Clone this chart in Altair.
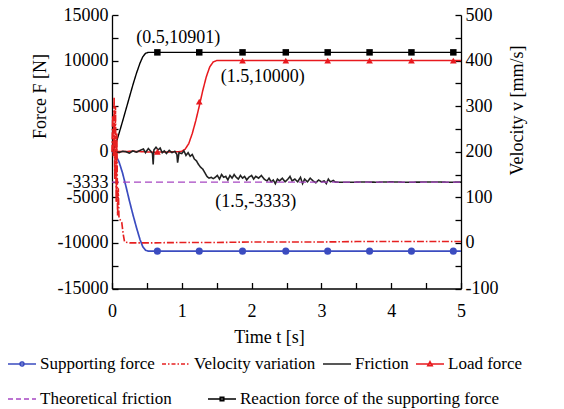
import altair as alt
import pandas as pd

# ---------------- data ----------------
row1_names = ["Supporting force", "Velocity variation", "Friction", "Load force"]
row1_colors = ["#3b4cc0", "#e62020", "#222222", "#e8191e"]
row2_names = ["Theoretical friction", "Reaction force of the supporting force"]
row2_colors = ["#a747c2", "#000000"]
series_names = row1_names + row2_names
series_dashes = [[1, 0], [7, 2, 1.5, 2], [1, 0], [1, 0], [7, 4], [1, 0]]
series_widths = [1.7, 1.4, 1.1, 1.6, 1.8, 1.6]

# Reaction force of the supporting force (N)
t_react = [0, 0.03, 0.06, 0.1, 0.15, 0.2, 0.25, 0.3, 0.35, 0.4, 0.44, 0.48, 0.52, 5.0]
f_react = [0, 300, 1000, 2000, 3300, 4650, 6000, 7350, 8600, 9700, 10400, 10800, 10901, 10901]

# Supporting force (N)
t_support = [0, 0.03, 0.06, 0.1, 0.15, 0.2, 0.25, 0.3, 0.35, 0.4, 0.44, 0.48, 0.52, 5.0]
f_support = [0, -150, -500, -1100, -2300, -3800, -5400, -6900, -8300, -9600, -10400, -10800, -10901, -10901]

# Load force (N)
t_load = [0, 0.3, 0.6, 0.95, 1.0, 1.05, 1.1, 1.15, 1.2, 1.25, 1.3, 1.35, 1.4, 1.45, 1.5, 5.0]
f_load = [0, 50, -50, 0, 50, 300, 900, 2000, 3400, 5000, 6700, 8200, 9300, 9850, 10000, 10000]

# Friction (N)
t_fric = [0.00, 0.05, 0.10, 0.15, 0.20, 0.25, 0.30, 0.35, 0.40, 0.45, 0.48, 0.52, 0.55, 0.58,
          0.59, 0.60, 0.63, 0.66, 0.69, 0.72, 0.75, 0.78, 0.82, 0.86, 0.90, 0.93, 0.94, 0.96,
          1.00, 1.03, 1.06, 1.09, 1.12, 1.15, 1.18, 1.21, 1.24, 1.27, 1.30, 1.33, 1.36, 1.39,
          1.42, 1.45, 1.48, 1.51, 1.54, 1.57, 1.60, 1.63, 1.66, 1.69, 1.72, 1.75, 1.78, 1.81,
          1.84, 1.87, 1.90, 1.93, 1.96, 2.00, 2.03, 2.06, 2.10, 2.14, 2.18, 2.22, 2.25, 2.28,
          2.31, 2.34, 2.37, 2.40, 2.44, 2.48, 2.52, 2.55, 2.58, 2.62, 2.66, 2.70, 2.73, 2.76,
          2.80, 2.84, 2.88, 2.92, 2.96, 3.00, 3.04, 3.07, 3.10, 3.13, 3.17, 3.20, 3.40, 3.60,
          3.80, 4.00, 4.20, 4.40, 4.60, 4.80, 5.00]
f_fric = [0, 100, -100, 50, 0, -150, 100, -50, 150, 300, -100, 350, 100, -200,
          -1400, 200, 500, 200, 400, -100, 100, -200, 150, -100, 50, -300, -1200, -100,
          -200, 100, -400, -100, -500, -300, -800, -1000, -1400, -1700, -1900, -2300, -2700, -2900,
          -2800, -2950, -2800, -2600, -3000, -2500, -2800, -2700, -3100, -2600, -2900, -2500, -2800, -3000,
          -2600, -2900, -2700, -3100, -2800, -2600, -3000, -2700, -2900, -2600, -3000, -3200, -2900, -3300,
          -3100, -3500, -3000, -3200, -2900, -3300, -3000, -2700, -3200, -3000, -3300, -2800, -3500, -3000,
          -3300, -2900, -3200, -3400, -3100, -3300, -3200, -3500, -3000, -3300, -3150, -3333, -3350, -3320,
          -3340, -3300, -3350, -3330, -3310, -3340, -3333]

# Theoretical friction (N)
t_theory = [0, 5]
f_theory = [-3333, -3333]

# Velocity variation (mm/s)
t_vel = [0, 0.01, 0.02, 0.03, 0.04, 0.05, 0.06, 0.07, 0.08, 0.09, 0.10, 0.12, 0.14, 0.16,
         0.18, 0.25, 0.5, 1.0, 1.5, 2.0, 2.5, 3.0, 3.5, 4.0, 4.5, 5.0]
v_vel = [200, 280, 190, 320, 140, 300, 90, 240, 60, 120, 55, 50, 45, 20,
         2, 0, 0, 1, 1, 2, 2, 2, 3, 3, 3, 3]

# markers
t_marks = [0.65, 1.25, 1.87, 2.49, 3.09, 3.69, 4.29, 4.89]
f_marks_react = [10901] * 8
f_marks_support = [-10901] * 8
f_marks_load = [0, 5490, 10000, 10000, 10000, 10000, 10000, 10000]

# annotations
ann_text = ["(0.5,10901)", "(1.5,10000)", "(1.5,-3333)"]
ann_t = [0.95, 2.16, 2.06]
ann_f = [12500, 8200, -5500]

# axis ticks
x_ticks = [0, 0.5, 1, 1.5, 2, 2.5, 3, 3.5, 4, 4.5, 5]
yl_ticks = [15000, 12500, 10000, 7500, 5000, 2500, 0, -3333, -5000, -7500, -10000, -12500, -15000]
yr_ticks = [-100, -50, 0, 50, 100, 150, 200, 250, 300, 350, 400, 450, 500]

# ---------------- frames ----------------
def frame(ts, fs, name):
    return pd.DataFrame({"t": ts, "F": fs, "series": name})

row1_df = pd.concat([
    frame(t_load, f_load, row1_names[3]),
    frame(t_support, f_support, row1_names[0]),
    frame(t_fric, f_fric, row1_names[2]),
], ignore_index=True)
row2_df = pd.concat([
    frame(t_react, f_react, row2_names[1]),
    frame(t_theory, f_theory, row2_names[0]),
], ignore_index=True)
vel_df = pd.DataFrame({"t": t_vel, "v": v_vel, "series": row1_names[1]})
mk_react = frame(t_marks, f_marks_react, row2_names[1])
mk_support = frame(t_marks, f_marks_support, row1_names[0])
mk_load = frame(t_marks, f_marks_load, row1_names[3])
ann_df = pd.DataFrame({"t": ann_t, "F": ann_f, "label": ann_text})

# ---------------- encodings ----------------
FONT = "Liberation Serif"
tick_in = alt.ExprRef(expr="-6")
axis_style = dict(labelFont=FONT, labelFontSize=18, labelColor="black",
                  titleFont=FONT, titleFontSize=18, titleColor="black", titleFontWeight="normal",
                  domainColor="black", domainWidth=1.3, tickColor="black", tickWidth=1.3,
                  grid=False, tickSize=tick_in, labelFlush=False, labelOverlap=False,
                  titleBaseline="middle", titleAlign="center")

x_enc = alt.X("t:Q", scale=alt.Scale(domain=[0, 5], nice=False),
              axis=alt.Axis(values=x_ticks, title="Time t [s]",
                            labelExpr="datum.value % 1 != 0 ? '' : '' + datum.value",
                            labelPadding=20, titleX=157, titleY=49, **axis_style))

y_force = alt.Y("F:Q", scale=alt.Scale(domain=[-15000, 15000], nice=False),
                axis=alt.Axis(values=yl_ticks, title="Force F [N]", orient="left",
                              labelExpr="indexof([12500,7500,2500,-7500,-12500], datum.value) >= 0 ? '' : '' + datum.value",
                              labelPadding=10, titleX=-72, titleY=81, titleAngle=270, **axis_style))

y_vel = alt.Y("v:Q", scale=alt.Scale(domain=[-100, 500], nice=False),
              axis=alt.Axis(values=yr_ticks, title="Velocity v [mm/s]", orient="right",
                            labelExpr="datum.value % 100 != 0 ? '' : '' + datum.value",
                            labelPadding=10, titleX=56, titleY=95, titleAngle=270, **axis_style))

sym_expr = ("datum.value == 'Supporting force' ? 'M-1,0H1M-0.15,0A0.15,0.15,0,1,0,0.15,0A0.15,0.15,0,1,0,-0.15,0Z' : "
            "datum.value == 'Load force' ? 'M-1,0H1M0,-0.17L0.16,0.12H-0.16Z' : "
            "datum.value == 'Reaction force of the supporting force' ? 'M-1,0H1M-0.13,-0.13H0.13V0.13H-0.13Z' : 'M-1,0H1'")
dash_expr = ("datum.value == 'Velocity variation' ? [4,2,1.5,2] : "
             "datum.value == 'Theoretical friction' ? [5,3] : [1,0]")

legend_style = dict(title=None, orient="none", legendX=-105, direction="horizontal",
                    columns=4, padding=0,
                    labelFont=FONT, labelFontSize=17, labelColor="black", labelLimit=500,
                    labelOffset=3, symbolSize=784, symbolStrokeWidth=1.5,
                    symbolType=alt.ExprRef(expr=sym_expr), symbolDash=alt.ExprRef(expr=dash_expr))

legend1 = alt.Legend(legendY=334, columnPadding=4, **legend_style)
legend2 = alt.Legend(legendY=369, columnPadding=33, **legend_style)

color_enc = alt.Color("series:N", scale=alt.Scale(domain=row1_names, range=row1_colors),
                      legend=legend1)
stroke_enc = alt.Stroke("series:N", scale=alt.Scale(domain=row2_names, range=row2_colors),
                        legend=legend2)
dash_enc = alt.StrokeDash("series:N", scale=alt.Scale(domain=series_names, range=series_dashes),
                          legend=None)
width_enc = alt.StrokeWidth("series:N", scale=alt.Scale(domain=series_names, range=series_widths),
                            legend=None)

lines1 = alt.Chart(row1_df).mark_line().encode(
    x=x_enc, y=y_force, color=color_enc, strokeDash=dash_enc, strokeWidth=width_enc)
lines2 = alt.Chart(row2_df).mark_line().encode(
    x=x_enc, y=y_force, stroke=stroke_enc, strokeDash=dash_enc, strokeWidth=width_enc)

def markers(df, shape, size, col):
    return alt.Chart(df).mark_point(shape=shape, filled=True, size=size, opacity=1,
                                    color=col).encode(x=x_enc, y=y_force)

mk1 = markers(mk_react, "square", 42, row2_colors[1])
mk2 = markers(mk_support, "circle", 50, row1_colors[0])
mk3 = markers(mk_load, "triangle-up", 45, row1_colors[3])

ann = alt.Chart(ann_df).mark_text(font=FONT, fontSize=18, color="black",
                                  align="center", baseline="middle").encode(
    x=x_enc, y=y_force, text="label:N")

vel_line = alt.Chart(vel_df).mark_line().encode(
    x=x_enc, y=y_vel, color=color_enc, strokeDash=dash_enc, strokeWidth=width_enc)

force_layer = alt.layer(lines1, lines2, mk1, mk2, mk3, ann)

chart = alt.layer(force_layer, vel_line).resolve_scale(y="independent").properties(
    width=349, height=273.5,
    padding={"left": 112, "top": 15, "right": 103, "bottom": 120.5},
    autosize=alt.AutoSizeParams(type="none"),
    background="white",
).configure(font=FONT).configure_view(stroke=None).configure_axis(
    labelFont=FONT, titleFont=FONT
).configure_text(font=FONT)

chart.save("out.html", embed_options={"renderer": "svg", "actions": False})
